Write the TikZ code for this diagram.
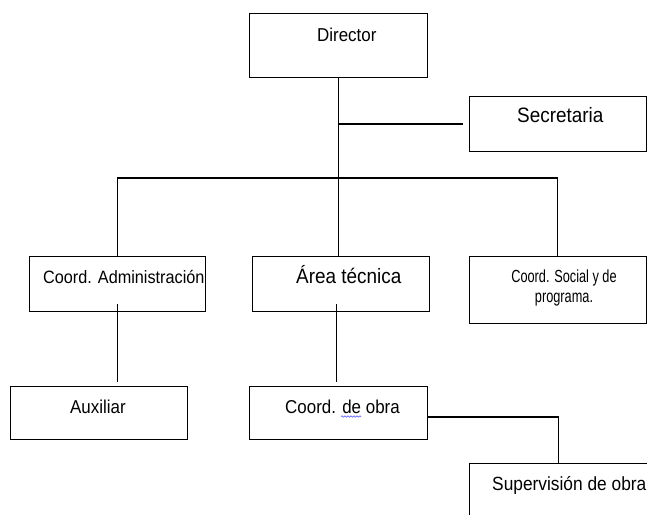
\documentclass[tikz,border=0pt]{standalone}
\usepackage{fontspec}
\setmainfont{Liberation Sans}
\usepackage{tikz}
\usetikzlibrary{decorations.pathmorphing}

\tikzset{
  puesto/.style={draw=black, line width=0.9bp, anchor=north west, inner sep=0pt,
    minimum width=177bp, minimum height=55bp},
  rotulo/.style={anchor=base west, inner sep=0pt, yscale=1.1,
    font=\fontsize{#1}{#1}\selectfont},
  rotulo/.default=17,
  enlace/.style={draw=black, line width=1bp},
  barra/.style={draw=black, line width=1.6bp},
}

\begin{document}
\begin{tikzpicture}[x=1bp, y=-1bp]
  \useasboundingbox (0,0) rectangle (647,515);

  \node[puesto, minimum width=178bp, minimum height=64bp] (dir) at (249,13) {};
  \node[puesto] (sec) at (469,96) {};
  \node[puesto, minimum width=176bp] (adm) at (29,256) {};
  \node[puesto] (tec) at (252,256) {};
  \node[puesto, minimum height=67bp] (soc) at (469,256) {};
  \node[puesto, minimum height=53bp] (aux) at (10,386) {};
  \node[puesto, minimum width=178bp, minimum height=53bp] (obra) at (249,386) {};
  \node[puesto, minimum width=178bp] (sup) at (469,463) {};

  \node[rotulo] (dirT) at (317,42) {Director};
  \node[rotulo=19] (secT) at (517,123) {Secretaria};
  \node[rotulo=16.3] (admT) at (43,283) {Coord. Administración};
  \node[rotulo=19] (tecT) at (296,283) {Área técnica};
  \node[rotulo, font=\fontsize{16}{18}\selectfont, anchor=north, align=center,
    xscale=0.8] (socT) at (564,270) {Coord. Social y de\\programa.};
  \node[rotulo] (auxT) at (70,413) {Auxiliar};
  \node[rotulo] (obraT) at (285,413) {Coord. de obra};
  \node[rotulo=17.4] (supT) at (492,490) {Supervisión de obra};

  \coordinate (bus) at (338,178);
  \draw[enlace] (dir.south) -- (dir.south |- tec.north);
  \draw[barra, shorten >=6bp] (dir.south |- sec.west) -- (sec.west);
  \draw[barra] (adm.north |- bus) -- (soc.north |- bus);
  \draw[enlace] (adm.north |- bus) -- (adm.north);
  \draw[enlace] (soc.north |- bus) -- (soc.north);
  \draw[enlace, shorten >=4bp] ([yshift=8bp]adm.south) -- (adm.south |- aux.north);
  \draw[enlace, shorten >=4bp] ([xshift=-4bp, yshift=8bp]tec.south)
    -- ([xshift=-4bp]tec.south |- obra.north);
  \draw[barra] ([yshift=-4bp]obra.east) -| (sup.north);
  \draw[blue!70, line width=0.6bp, decorate,
    decoration={snake, segment length=3bp, amplitude=0.7bp}]
    ([xshift=56bp, yshift=-3.5bp]obraT.base west)
    -- ([xshift=76bp, yshift=-3.5bp]obraT.base west);
\end{tikzpicture}
\end{document}
